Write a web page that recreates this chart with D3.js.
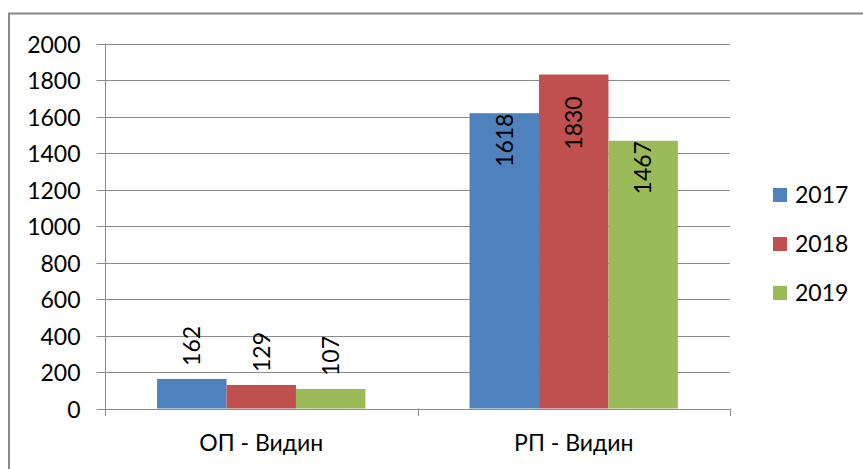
<!DOCTYPE html>
<html>
<head>
<meta charset="utf-8">
<script src="https://cdn.jsdelivr.net/npm/d3@7"></script>
<style>
body { margin: 0; background: #fff; }
text { font-family: Lato, "Open Sans", sans-serif; fill: #000; }
</style>
</head>
<body>
<svg id="chart" width="863" height="469"></svg>
<script>
var categories = ["ОП - Видин", "РП - Видин"];
var years = ["2017", "2018", "2019"];
var values2017 = [162, 1618];
var values2018 = [129, 1830];
var values2019 = [107, 1467];
var yTicks = [0, 200, 400, 600, 800, 1000, 1200, 1400, 1600, 1800, 2000];
var colors = ["#4f81bd", "#c0504d", "#9bbb59"];

var series = [values2017, values2018, values2019];
var fontSize = "23px";

var svg = d3.select("#chart");
var plotLeft = 105, plotRight = 730, plotTop = 43.5, plotBottom = 408.5;

var x = d3.scaleBand().domain(categories).range([plotLeft, plotRight]);
// excel gap width 150%: the 3 bars take 3 of 4.5 units of each category
var xInner = d3.scaleBand().domain(years)
  .range([x.bandwidth() * 0.75 / 4.5, x.bandwidth() * 3.75 / 4.5]);
var y = d3.scaleLinear().domain([0, 2000]).range([plotBottom, plotTop]);

// frame (only top and left are in the picture)
svg.append("path").attr("d", "M9,469 V13.5 H863").attr("fill", "none")
  .attr("stroke", "#898989").attr("stroke-width", 2);

// gridlines
svg.append("g").selectAll("line").data(yTicks.slice(1)).enter().append("line")
  .attr("x1", plotLeft).attr("x2", plotRight)
  .attr("y1", function(d) { return Math.round(y(d)) + 0.5; })
  .attr("y2", function(d) { return Math.round(y(d)) + 0.5; })
  .attr("stroke", "#8c8c8c").attr("stroke-width", 1);

// y axis
var yAxis = svg.append("g").attr("transform", "translate(" + (plotLeft + 0.5) + ",0)")
  .call(d3.axisLeft(y).tickValues(yTicks).tickSize(9).tickPadding(16)
    .tickFormat(d3.format("d")));
yAxis.selectAll("path,line").attr("stroke", "#8c8c8c");
yAxis.select(".domain").attr("d", "M0," + plotTop + "V416");
yAxis.selectAll(".tick").attr("transform", function(d) { return "translate(0," + (Math.round(y(d)) + 0.5) + ")"; });
yAxis.selectAll("text").style("font-size", fontSize).style("font-family", "Lato").attr("fill", "#000").attr("dy", "0.36em");

// x axis line and category ticks
svg.append("line").attr("x1", plotLeft).attr("x2", plotRight)
  .attr("y1", Math.round(plotBottom) + 0.5).attr("y2", Math.round(plotBottom) + 0.5)
  .attr("stroke", "#8c8c8c");
var bounds = categories.map(function(c) { return x(c) + x.bandwidth(); });
svg.append("g").selectAll("line").data(bounds).enter().append("line")
  .attr("x1", function(d) { return Math.round(d) + 0.5; })
  .attr("x2", function(d) { return Math.round(d) + 0.5; })
  .attr("y1", plotBottom).attr("y2", 416)
  .attr("stroke", "#8c8c8c");

svg.append("g").selectAll("text").data(categories).enter().append("text")
  .attr("x", function(d) { return x(d) + x.bandwidth() / 2; })
  .attr("y", 451)
  .attr("text-anchor", "middle")
  .style("font-size", fontSize)
  .text(function(d) { return d; });

// bars
var barData = [];
series.forEach(function(vals, si) {
  vals.forEach(function(v, ci) {
    barData.push({ cat: categories[ci], year: years[si], v: v, color: colors[si] });
  });
});

svg.append("g").selectAll("rect").data(barData).enter().append("rect")
  .attr("x", function(d) { return x(d.cat) + xInner(d.year); })
  .attr("y", function(d) { return y(d.v); })
  .attr("width", xInner.bandwidth())
  .attr("height", function(d) { return plotBottom - y(d.v); })
  .attr("fill", function(d) { return d.color; });

// labels, rotated; small bars get label above, tall bars inside
svg.append("g").selectAll("text").data(barData).enter().append("text")
  .attr("transform", function(d) {
    var cx = x(d.cat) + xInner(d.year) + xInner.bandwidth() / 2;
    var cy = d.v < 1000 ? y(d.v) - 33 : Math.max(y(d.v) + 27, 123);
    return "translate(" + cx + "," + cy + ") rotate(-90)";
  })
  .attr("text-anchor", "middle")
  .attr("dy", "0.36em")
  .style("font-size", fontSize)
  .text(function(d) { return d.v; });

// legend
var legend = svg.append("g").selectAll("g").data(years).enter().append("g")
  .attr("transform", function(d, i) { return "translate(773," + (188 + i * 49) + ")"; });
legend.append("rect").attr("width", 14).attr("height", 14)
  .attr("fill", function(d, i) { return colors[i]; });
legend.append("text").attr("x", 22).attr("y", 7).attr("dy", "0.36em")
  .style("font-size", fontSize)
  .text(function(d) { return d; });
</script>
</body>
</html>
